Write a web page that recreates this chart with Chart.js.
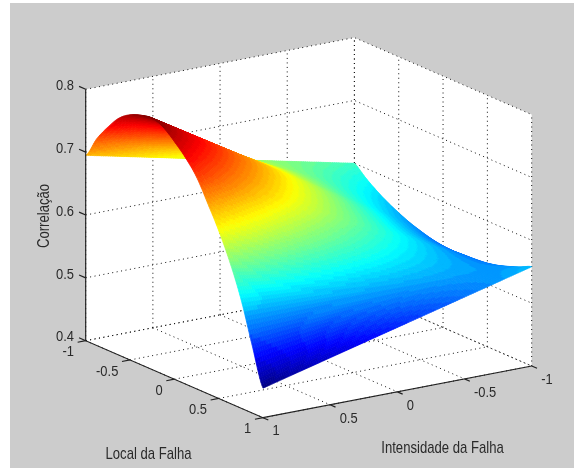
<!DOCTYPE html>
<html>
<head>
<meta charset="utf-8">
<style>
  html, body { margin: 0; padding: 0; background: #fff; }
  canvas { display: block; }
</style>
<script src="https://cdn.jsdelivr.net/npm/chart.js@4"></script>
</head>
<body>
<canvas id="myChart" width="574" height="468"></canvas>
<script>
const zTicks = [0.4, 0.5, 0.6, 0.7, 0.8];
const localTicks = [-1, -0.5, 0, 0.5, 1];
const intensidadeTicks = [1, 0.5, 0, -0.5, -1];

// surface rows: one row per Intensidade value
const localGrid = [-1, -0.875, -0.75, -0.625, -0.5, -0.375, -0.25, -0.125, 0, 0.125, 0.25, 0.375, 0.5, 0.625, 0.75, 0.875, 1];
const intensidadeGrid = [-1, -0.5, 0, 0.5, 1];
const corrIntMinus1 = [0.600, 0.585, 0.572, 0.561, 0.552, 0.544, 0.538, 0.533, 0.530, 0.529, 0.530, 0.531, 0.533, 0.537, 0.543, 0.550, 0.558];
const corrIntMinus05 = [0.6237, 0.621, 0.6177, 0.615, 0.6115, 0.6072, 0.6035, 0.598, 0.592, 0.5867, 0.5817, 0.574, 0.5665, 0.559, 0.5507, 0.5397, 0.5302];
const corrInt0 = [0.6475, 0.657, 0.6635, 0.669, 0.671, 0.6705, 0.669, 0.663, 0.654, 0.6445, 0.6335, 0.617, 0.600, 0.581, 0.5585, 0.5295, 0.5025];
const corrInt05 = [0.6712, 0.693, 0.7092, 0.723, 0.7305, 0.7337, 0.7345, 0.728, 0.716, 0.7022, 0.6852, 0.660, 0.6335, 0.603, 0.5662, 0.5192, 0.4747];
const corrInt1 = [0.695, 0.729, 0.755, 0.777, 0.790, 0.797, 0.800, 0.793, 0.778, 0.760, 0.737, 0.703, 0.667, 0.625, 0.574, 0.509, 0.447];
const surfaceRows = [corrIntMinus1, corrIntMinus05, corrInt0, corrInt05, corrInt1];

const colorMin = 0.447;
const colorMax = 0.802;

// fixed 3D view, the box corners as they land on the page
function project(intensidade, local, z) {
    const u = (1 - intensidade) / 2;
    const t = (1 - local) / 2;
    const h = (z - 0.4) / 0.4;
    return {
        x: 263 + u * 268.7 - t * 177.3,
        y: 417.7 - u * 51.7 - t * 77 - h * 251.4
    };
}

function jet(v) {
    const level = Math.min(63, Math.max(0, Math.floor(v * 64)));
    const c = (level + 0.5) / 64;
    const ch = d => Math.round(255 * Math.min(1, Math.max(0, 1.5 - Math.abs(4 * c - d))));
    return `rgb(${ch(3)},${ch(2)},${ch(1)})`;
}

// smooth shading along Local between two grid values
function rowValue(row, c, g) {
    const p0 = row[Math.max(0, c - 1)], p1 = row[c], p2 = row[c + 1], p3 = row[Math.min(row.length - 1, c + 2)];
    return p1 + 0.5 * g * (p2 - p0 + g * (2 * p0 - 5 * p1 + 4 * p2 - p3 + g * (3 * p1 - p0 - 3 * p2 + p3)));
}

function dotted(points) {
    return { data: points, showLine: true, pointRadius: 0, borderColor: '#111', borderWidth: 1, borderDash: [1, 3.5], order: 5 };
}

function solid(points) {
    return { data: points, showLine: true, pointRadius: 0, borderColor: '#222', borderWidth: 1.2, order: 0 };
}

const datasets = [];

// white walls and floor
datasets.push({
    data: [project(1, -1, 0.4), project(1, 1, 0.4), project(-1, 1, 0.4), project(-1, 1, 0.8), project(-1, -1, 0.8), project(1, -1, 0.8)],
    showLine: true, pointRadius: 0, borderWidth: 0, fill: 'shape', backgroundColor: '#fff', order: 10
});

// grid on the two back walls and the floor
intensidadeTicks.forEach(i => {
    datasets.push(dotted([project(i, -1, 0.4), project(i, -1, 0.8)]));
    datasets.push(dotted([project(i, -1, 0.4), project(i, 1, 0.4)]));
});
localTicks.forEach(l => {
    datasets.push(dotted([project(-1, l, 0.4), project(-1, l, 0.8)]));
    datasets.push(dotted([project(1, l, 0.4), project(-1, l, 0.4)]));
});
zTicks.forEach(z => {
    datasets.push(dotted([project(1, -1, z), project(-1, -1, z), project(-1, 1, z)]));
});

// surface vertices, painted by the plugin below
const surfacePoints = [];
intensidadeGrid.forEach((i, r) => localGrid.forEach((l, c) => {
    surfacePoints.push(project(i, l, surfaceRows[r][c]));
}));
const surfaceIndex = datasets.length;
datasets.push({ label: 'Correlação', data: surfacePoints, pointRadius: 0, showLine: false, order: 2 });

// axis lines and ticks
datasets.push(solid([project(1, -1, 0.8), project(1, -1, 0.4), project(1, 1, 0.4), project(-1, 1, 0.4)]));
zTicks.forEach(z => datasets.push(solid([project(1, -1, z), project(1, -1.075, z)])));
localTicks.forEach(l => datasets.push(solid([project(1, l, 0.4), project(1.06, l, 0.4)])));
intensidadeTicks.forEach(i => datasets.push(solid([project(i, 1, 0.4), project(i, 1.06, 0.4)])));

const surfacePlugin = {
    id: 'surface',
    afterDatasetDraw(chart, args) {
        if (args.index !== surfaceIndex) return;
        const ctx = chart.ctx;
        const sx = chart.scales.x, sy = chart.scales.y;
        const px = (i, l, z) => {
            const p = project(i, l, z);
            return [sx.getPixelForValue(p.x), sy.getPixelForValue(p.y)];
        };
        const stepsI = 30, stepsL = 10;
        ctx.save();
        ctx.lineWidth = 0.7;
        ctx.lineJoin = 'round';
        // far corner first, shading interp between the grid values
        for (let r = 0; r < intensidadeGrid.length - 1; r++) {
            for (let a = 0; a < stepsI; a++) {
                const fa = a / stepsI, fb = (a + 1) / stepsI;
                const i0 = intensidadeGrid[r] + fa * (intensidadeGrid[r + 1] - intensidadeGrid[r]);
                const i1 = intensidadeGrid[r] + fb * (intensidadeGrid[r + 1] - intensidadeGrid[r]);
                for (let c = 0; c < localGrid.length - 1; c++) {
                    for (let b = 0; b < stepsL; b++) {
                        const ga = b / stepsL, gb = (b + 1) / stepsL;
                        const l0 = localGrid[c] + ga * (localGrid[c + 1] - localGrid[c]);
                        const l1 = localGrid[c] + gb * (localGrid[c + 1] - localGrid[c]);
                        const far0 = rowValue(surfaceRows[r], c, ga), near0 = rowValue(surfaceRows[r + 1], c, ga);
                        const far1 = rowValue(surfaceRows[r], c, gb), near1 = rowValue(surfaceRows[r + 1], c, gb);
                        const zA = far0 + fa * (near0 - far0), zB = far1 + fa * (near1 - far1);
                        const zC = far1 + fb * (near1 - far1), zD = far0 + fb * (near0 - far0);
                        const col = jet(((zA + zB + zC + zD) / 4 - colorMin) / (colorMax - colorMin));
                        const p1 = px(i0, l0, zA), p2 = px(i0, l1, zB), p3 = px(i1, l1, zC), p4 = px(i1, l0, zD);
                        ctx.fillStyle = col;
                        ctx.strokeStyle = col;
                        ctx.beginPath();
                        ctx.moveTo(p1[0], p1[1]);
                        ctx.lineTo(p2[0], p2[1]);
                        ctx.lineTo(p3[0], p3[1]);
                        ctx.lineTo(p4[0], p4[1]);
                        ctx.closePath();
                        ctx.fill();
                        ctx.stroke();
                    }
                }
            }
        }
        ctx.restore();
    }
};

const textPlugin = {
    id: 'axisText',
    afterDraw(chart) {
        const ctx = chart.ctx;
        const sx = chart.scales.x, sy = chart.scales.y;
        // the reference text is a little taller than it is wide
        const stretched = (text, x, y, align, angle) => {
            ctx.save();
            ctx.translate(x, y);
            ctx.rotate(angle);
            ctx.scale(0.95, 1.14);
            ctx.textAlign = align;
            ctx.fillText(text, 0, 0);
            ctx.restore();
        };
        const put = (text, p, dx, dy, align) => {
            stretched(text, sx.getPixelForValue(p.x) + dx, sy.getPixelForValue(p.y) + dy, align, 0);
        };
        ctx.save();
        ctx.font = '13.6px "Liberation Sans", Arial, sans-serif';
        ctx.fillStyle = '#2a2a2a';
        ctx.textBaseline = 'middle';
        ctx.filter = 'blur(0.35px)';
        zTicks.forEach(z => put(z.toFixed(1), project(1, -1, z), -11.7, -3.5, 'right'));
        localTicks.forEach(l => put(String(l), project(1, l, 0.4), -11.7, 11.5, 'right'));
        intensidadeTicks.forEach(i => put(String(i), project(i, 1, 0.4), 9.5, 13.5, 'left'));
        ctx.font = '13.8px "Liberation Sans", Arial, sans-serif';
        stretched('Local da Falha', 148.5, 454.5, 'center', 0);
        stretched('Intensidade da Falha', 442.5, 448.5, 'center', 0);
        stretched('Correlação', 45, 216, 'center', -Math.PI / 2);
        ctx.restore();
    }
};

const backgroundPlugin = {
    id: 'figureBackground',
    beforeDraw(chart) {
        const ctx = chart.ctx;
        ctx.save();
        ctx.fillStyle = '#cccccc';
        ctx.fillRect(10, 3, 564, 465);
        ctx.restore();
    }
};

new Chart(document.getElementById('myChart'), {
    type: 'scatter',
    data: { datasets: datasets },
    options: {
        responsive: false,
        animation: false,
        layout: { padding: 0 },
        plugins: { legend: { display: false }, tooltip: { enabled: false } },
        scales: {
            x: { type: 'linear', min: 0, max: 574, display: false },
            y: { type: 'linear', min: 0, max: 468, reverse: true, display: false }
        }
    },
    plugins: [backgroundPlugin, surfacePlugin, textPlugin]
});
</script>
</body>
</html>
